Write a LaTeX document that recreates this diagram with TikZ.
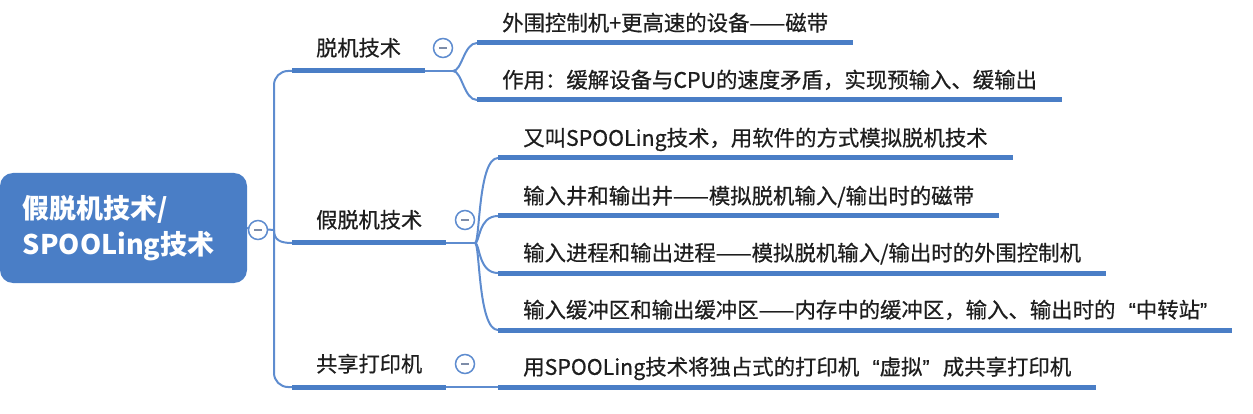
\documentclass[tikz,border=0pt]{standalone}
\usepackage{fontspec}
\setmainfont{Noto Sans CJK SC}
\newfontfamily\medfont{Noto Sans CJK SC}[FakeBold=0.6]
\newfontfamily\qfont{Liberation Sans}[FakeBold=0.6]
\newcommand\myql{\kern0.62em{\qfont “}}
\newcommand\myqr{{\qfont ”}\kern0.62em}
\definecolor{mblue}{HTML}{4A7EC6}
\definecolor{lblue}{HTML}{5E8CCF}
\definecolor{txt}{HTML}{1E1E1E}
\definecolor{minusc}{HTML}{7D8CA8}
\begin{document}
\begin{tikzpicture}[x=1pt,y=-1pt,
  rootbox/.style={fill=mblue, rounded corners=13pt, minimum width=247pt, minimum height=110pt,
    text width=201pt, inner xsep=23pt, align=left, text=white,
    font=\fontsize{27}{36}\selectfont\bfseries},
  branch/.style={anchor=south west, inner xsep=24pt, inner ysep=0pt, text depth=15pt,
    text=txt, font=\fontsize{21.2}{25}\medfont},
  leaf/.style={anchor=south west, inner xsep=25pt, inner ysep=0pt, text depth=12pt,
    text=txt, font=\fontsize{21.4}{25}\medfont},
  uline/.style={draw=mblue, line width=5pt},
  conn/.style={draw=lblue, line width=2pt},
  collapse/.style={circle, draw=lblue, line width=1.5pt, fill=white, minimum size=19pt, inner sep=0pt,
    path picture={\draw[minusc, line width=1.6pt] ([xshift=-4pt]path picture bounding box.center) -- ([xshift=4pt]path picture bounding box.center);}}
]
\useasboundingbox (0,0) rectangle (1253,414);

% nodes
\node[rootbox] (root) at (123.5,228) {假脱机技术/\\SPOOLing技术};

\node[branch] (b1) at (292,71) {脱机技术};
\node[branch] (b2) at (292,243) {假脱机技术};
\node[branch] (b3) at (292,387) {共享打印机};

\node[leaf] (l11) at (477,43) {外围控制机+更高速的设备——磁带};
\node[leaf] (l12) at (477,100) {作用：缓解设备与CPU的速度矛盾，实现预输入、缓输出};
\node[leaf] (l21) at (498,158) {又叫SPOOLing技术，用软件的方式模拟脱机技术};
\node[leaf] (l22) at (498,216) {输入井和输出井——模拟脱机输入/输出时的磁带};
\node[leaf] (l23) at (498,273) {输入进程和输出进程——模拟脱机输入/输出时的外围控制机};
\node[leaf] (l24) at (498,330) {输入缓冲区和输出缓冲区——内存中的缓冲区，输入、输出时的\myql 中转站{\qfont ”}};
\node[leaf] (l31) at (498,387) {用SPOOLing技术将独占式的打印机\myql 虚拟\myqr 成共享打印机};

\coordinate (j0) at (274,230);
\coordinate (p1) at (453,71);
\coordinate (p2) at (475,243);

% connectors
\draw[conn] (root.east) -- (j0);
\draw[conn, rounded corners=14pt] (b1.south west) -| (j0) |- (b3.south west);
\draw[conn] (j0) .. controls +(0,10) and +(-12,0) .. (b2.south west);

\draw[conn] (b1.south east) -- (p1);
\draw[conn] (p1) .. controls +(9,0) and +(-13,0) .. (l11.south west);
\draw[conn] (p1) .. controls +(9,0) and +(-13,0) .. (l12.south west);

\draw[conn] (b2.south east) -- (p2);
\foreach \n in {l21,l22,l23,l24}
  \draw[conn] (p2) .. controls +(5,0) and +(-20,0) .. (\n.south west);

\draw[conn] (b3.south east) -- (l31.south west);

% underlines
\foreach \n in {b1,b2,b3,l11,l12,l21,l22,l23,l24,l31}
  \draw[uline] (\n.south west) -- (\n.south east);

% collapse buttons
\node[collapse] (c0) at (258,230) {};
\node[collapse] (c1) at (443,48) {};
\node[collapse] (c2) at (465,220) {};
\node[collapse] (c3) at (465,364) {};
\end{tikzpicture}
\end{document}
